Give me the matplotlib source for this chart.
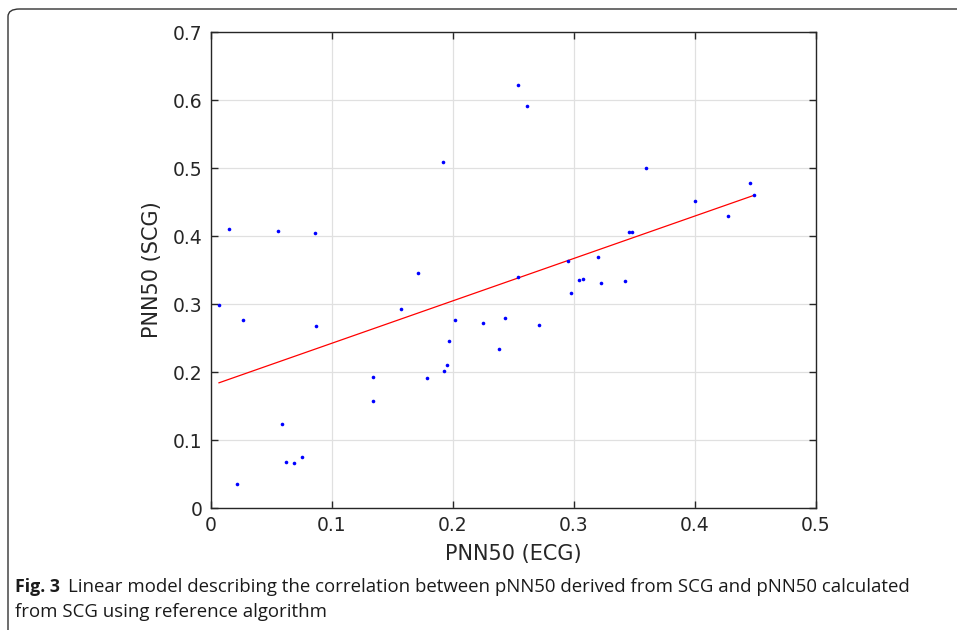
import matplotlib
matplotlib.use("Agg")
import matplotlib.pyplot as plt
from matplotlib.patches import FancyBboxPatch
import numpy as np

# Data
ecg_pnn50 = [0.0066, 0.0149, 0.0264, 0.0215, 0.0551, 0.0586, 0.0623, 0.0686, 0.0752,
             0.0860, 0.0871, 0.1339, 0.1339, 0.1570, 0.1708, 0.1785, 0.1914, 0.1929,
             0.1948, 0.1967, 0.2017, 0.2248, 0.2380, 0.2427, 0.2537, 0.2537, 0.2614,
             0.2708, 0.2948, 0.2978, 0.3041, 0.3074, 0.3196, 0.3226, 0.3419, 0.3452,
             0.3479, 0.3595, 0.4003, 0.4270, 0.4455, 0.4488]
scg_pnn50 = [0.299, 0.411, 0.276, 0.035, 0.407, 0.123, 0.067, 0.066, 0.075,
             0.404, 0.267, 0.192, 0.157, 0.292, 0.346, 0.191, 0.509, 0.201,
             0.211, 0.246, 0.277, 0.272, 0.234, 0.280, 0.622, 0.340, 0.591,
             0.269, 0.363, 0.316, 0.335, 0.337, 0.369, 0.331, 0.334, 0.406,
             0.406, 0.500, 0.451, 0.430, 0.478, 0.460]

# Linear model (slope, intercept)
fit_slope = 0.6236
fit_intercept = 0.180

x_ticks = [0, 0.1, 0.2, 0.3, 0.4, 0.5]
x_tick_labels = ["0", "0.1", "0.2", "0.3", "0.4", "0.5"]
y_ticks = [0, 0.1, 0.2, 0.3, 0.4, 0.5, 0.6, 0.7]
y_tick_labels = ["0", "0.1", "0.2", "0.3", "0.4", "0.5", "0.6", "0.7"]

W, H = 957, 630
fig = plt.figure(figsize=(W / 100, H / 100), dpi=100)
fig.patch.set_facecolor("white")

# Axes placement in pixels: left 211, right 816, top 32, bottom 508
ax = fig.add_axes([211 / W, 1 - 508 / H, (816 - 211) / W, (508 - 32) / H])

fx = np.array([min(ecg_pnn50), max(ecg_pnn50)])
ax.plot(fx, fit_slope * fx + fit_intercept, color="red", lw=0.9, zorder=2)
ax.plot(ecg_pnn50, scg_pnn50, linestyle="none", marker="o", markersize=2.6,
        color="blue", markeredgewidth=0, zorder=3)

ax.set_xlim(0, 0.5)
ax.set_ylim(0, 0.7)
ax.set_xticks(x_ticks)
ax.set_xticklabels(x_tick_labels)
ax.set_yticks(y_ticks)
ax.set_yticklabels(y_tick_labels)
ax.grid(True, color="#e0e0e0", lw=0.9)
ax.set_axisbelow(True)
ax.tick_params(direction="in", length=5, width=1.0, top=True, right=True,
               labelsize=13.5, colors="#262626", pad=6)
for lab in ax.get_xticklabels() + ax.get_yticklabels():
    lab.set_color("#262626")
for s in ax.spines.values():
    s.set_color("#262626")
    s.set_linewidth(1.0)

ax.set_xlabel("PNN50 (ECG)", fontsize=15, color="#262626", labelpad=6)
ax.set_ylabel("PNN50 (SCG)", fontsize=15, color="#262626", labelpad=8)

# Frame border (rounded top-left corner)
frame = FancyBboxPatch((8 / W, -0.05), 1.2, (H - 9) / H + 0.05,
                       boxstyle="round,pad=0,rounding_size=0.012",
                       transform=fig.transFigure, fill=False,
                       edgecolor="#333333", lw=1.0, clip_on=False)
fig.patches.append(frame)

# Caption
cap_font = "Open Sans"
fig.text(15 / W, 1 - 587 / H, "Fig. 3", fontsize=12.8, fontweight="bold",
         family=cap_font, va="center", ha="left", color="#1a1a1a")
fig.text(68 / W, 1 - 587 / H, "Linear model describing the correlation between pNN50 derived from SCG and pNN50 calculated",
         fontsize=13.4, family=cap_font, va="center", ha="left", color="#1a1a1a")
fig.text(15 / W, 1 - 612 / H, "from SCG using reference algorithm",
         fontsize=13.4, family=cap_font, va="center", ha="left", color="#1a1a1a")

fig.savefig("out.png", dpi=100, facecolor="white")
